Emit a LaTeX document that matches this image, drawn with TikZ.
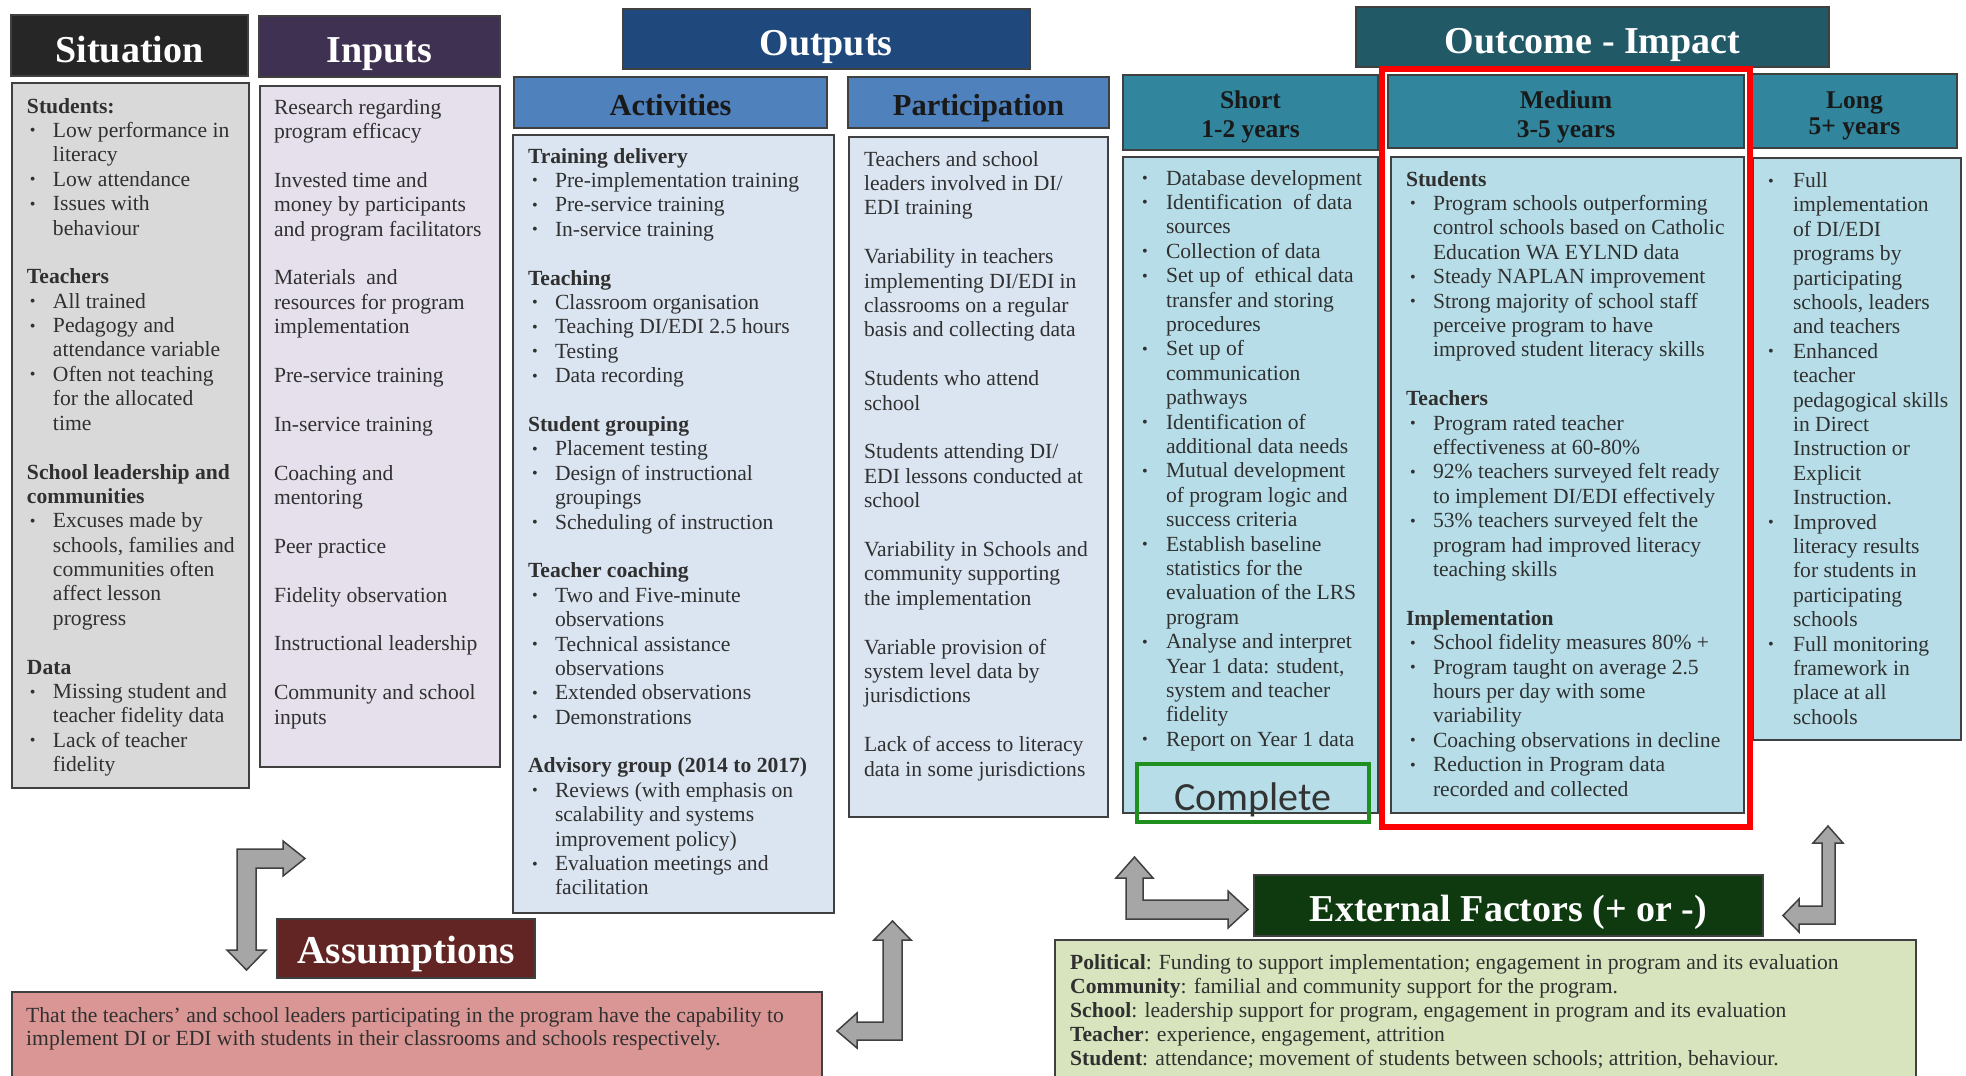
\documentclass[tikz,border=0pt]{standalone}
\usepackage{fontspec}
\usepackage{graphicx}
\setmainfont{Liberation Serif}
\newfontfamily\carl{Carlito}
\definecolor{sithd}{HTML}{262626}
\definecolor{inphd}{HTML}{3F3151}
\definecolor{outhd}{HTML}{1F497D}
\definecolor{acthd}{HTML}{4F81BD}
\definecolor{oichd}{HTML}{215967}
\definecolor{termhd}{HTML}{31859C}
\definecolor{asshd}{HTML}{632523}
\definecolor{exthd}{HTML}{0F3A10}
\definecolor{sitbg}{HTML}{D9D9D9}
\definecolor{inpbg}{HTML}{E5E0EC}
\definecolor{actbg}{HTML}{DBE5F1}
\definecolor{termbg}{HTML}{B7DEE8}
\definecolor{assbg}{HTML}{D99694}
\definecolor{extbg}{HTML}{D7E4BD}
\definecolor{brd}{HTML}{404040}
\definecolor{txt}{HTML}{303030}
\definecolor{arrfill}{HTML}{A6A6A6}
\definecolor{redbox}{HTML}{FF0000}
\definecolor{grnbox}{HTML}{1F8F1F}
\newlength\bo \newlength\bt
\newcommand\sbul{\raisebox{0.15ex}{\scalebox{0.75}{\textbullet}}}
\newcommand\bu{\hspace*{\bo}\makebox[\dimexpr\bt-\bo\relax][l]{\sbul}}
\newcommand\ct{\hspace*{\bt}}
\newcommand\bodyf{\fontsize{21.6pt}{24.4pt}\selectfont}
\newcommand\gap{\\[24.4pt]}
\newcommand\bx[7]{\node[panel, fill=#2, minimum width={#5-#3}, minimum height={#6-#4}] (#1) at ({(#3+#5)/2},{(#4+#6)/2}) {};}
\newcommand\tx[5]{\node[anchor=base west, inner sep=0, outer sep=0, text=txt] (#1) at (#2,#3) {\begin{minipage}[t]{#4}\raggedright\bodyf\leavevmode #5\end{minipage}};}
\begin{document}
\begin{tikzpicture}[x=1pt,y=-1pt,
  panel/.style={draw=brd, line width=1.5pt, inner sep=0, outer sep=0},
  bigtitle/.style={anchor=base, inner sep=0, text=white, font=\fontsize{38pt}{40pt}\selectfont\bfseries},
  midtitle/.style={anchor=base, inner sep=0, text=black!90, font=\fontsize{30.5pt}{32pt}\selectfont\bfseries},
  blockarrow/.style={fill=arrfill, draw=brd, line width=1.5pt, line join=miter}]
\useasboundingbox (0,0) rectangle (1966,1076);
\clip (0,0) rectangle (1966,1076);
\fill[white] (0,0) rectangle (1966,1076);
% headers
\bx{sith}{sithd}{11}{15}{248}{76}{}
\bx{inph}{inphd}{259}{16}{500}{77}{}
\bx{outh}{outhd}{623}{9}{1030}{69}{}
\bx{acth}{acthd}{514}{77}{827}{128}{}
\bx{parh}{acthd}{848}{77}{1109}{128}{}
\bx{oich}{oichd}{1356}{7}{1829}{67}{}
\bx{shorth}{termhd}{1123}{75}{1378}{150}{}
\bx{medh}{termhd}{1388}{75}{1744}{148}{}
\bx{longh}{termhd}{1752}{74}{1957}{148}{}
% bodies
\bx{sitb}{sitbg}{12}{83}{249}{788}{}
\bx{inpb}{inpbg}{260}{86}{500}{767}{}
\bx{actb}{actbg}{513}{135}{834}{913}{}
\bx{parb}{actbg}{849}{137}{1108}{817}{}
\bx{shortb}{termbg}{1123}{157}{1378}{813}{}
\bx{medb}{termbg}{1391}{157}{1744}{813}{}
\bx{longb}{termbg}{1753}{158}{1961}{740}{}
\bx{assh}{asshd}{277}{919}{535}{978}{}
\bx{assb}{assbg}{12}{992}{822}{1100}{}
\bx{exth}{exthd}{1254}{875}{1763}{936}{}
\bx{extb}{extbg}{1055}{940}{1916}{1100}{}
% highlight frames
\node[draw=redbox, line width=6pt, inner sep=0, minimum width=367.5pt, minimum height=757.5pt] (redframe) at (1565.75,447.75) {};
\node[draw=grnbox, line width=4pt, inner sep=0, minimum width=232pt, minimum height=57.5pt] (grnframe) at (1253,792.75) {};
% titles
\node[bigtitle] (sitt) at (129.5,62) {Situation};
\node[bigtitle] (inpt) at (379.5,62) {Inputs};
\node[bigtitle] (outt) at (826,55) {Outputs};
\node[bigtitle] (oict) at (1592.5,53) {Outcome - Impact};
\node[midtitle] (actt) at (670.5,115) {Activities};
\node[midtitle] (part) at (978.5,115) {Participation};
\node[anchor=base, inner sep=0, text=black!90] (shortt) at (1250.5,108) {\begin{minipage}[t]{250pt}\centering\fontsize{25.5pt}{29pt}\selectfont\bfseries\leavevmode Short\\1-2 years\end{minipage}};
\node[anchor=base, inner sep=0, text=black!90] (medt) at (1566,108) {\begin{minipage}[t]{300pt}\centering\fontsize{25.5pt}{29pt}\selectfont\bfseries\leavevmode Medium\\3-5 years\end{minipage}};
\node[anchor=base, inner sep=0, text=black!90] (longt) at (1854.5,108) {\begin{minipage}[t]{200pt}\centering\fontsize{25.5pt}{26.5pt}\selectfont\bfseries\leavevmode Long\\5+ years\end{minipage}};
\node[bigtitle, font=\fontsize{39.5pt}{41pt}\selectfont\bfseries] (asst) at (406,963) {Assumptions};
\node[bigtitle] (extt) at (1508.5,921) {External Factors (+ or -)};
\node[anchor=base, inner sep=0, text=black!80, font=\carl\fontsize{40pt}{42pt}\selectfont] (compl) at (1253,810) {Complete};
% body texts
\tx{sittx}{27}{113}{220pt}{\setlength\bo{3pt}\setlength\bt{26pt}%
\textbf{Students:}\\
\bu Low performance in\\
\ct literacy\\
\bu Low attendance\\
\bu Issues with\\
\ct behaviour\gap
\textbf{Teachers}\\
\bu All trained\\
\bu Pedagogy and\\
\ct attendance variable\\
\bu Often not teaching\\
\ct for the allocated\\
\ct time\gap
\textbf{School leadership and}\\
\textbf{communities}\\
\bu Excuses made by\\
\ct schools, families and\\
\ct communities often\\
\ct affect lesson\\
\ct progress\gap
\textbf{Data}\\
\bu Missing student and\\
\ct teacher fidelity data\\
\bu Lack of teacher\\
\ct fidelity}
\tx{inptx}{274}{114}{225pt}{%
Research regarding\\
program efficacy\gap
Invested time and\\
money by participants\\
and program facilitators\gap
Materials \ and\\
resources for program\\
implementation\gap
Pre-service training\gap
In-service training\gap
Coaching and\\
mentoring\gap
Peer practice\gap
Fidelity observation\gap
Instructional leadership\gap
Community and school\\
inputs}
\tx{acttx}{528}{163}{300pt}{\setlength\bo{4pt}\setlength\bt{27pt}%
\textbf{Training delivery}\\
\bu Pre-implementation training\\
\bu Pre-service training\\
\bu In-service training\gap
\textbf{Teaching}\\
\bu Classroom organisation\\
\bu Teaching DI/EDI 2.5 hours\\
\bu Testing\\
\bu Data recording\gap
\textbf{Student grouping}\\
\bu Placement testing\\
\bu Design of instructional\\
\ct groupings\\
\bu Scheduling of instruction\gap
\textbf{Teacher coaching}\\
\bu Two and Five-minute\\
\ct observations\\
\bu Technical assistance\\
\ct observations\\
\bu Extended observations\\
\bu Demonstrations\gap
\textbf{Advisory group (2014 to 2017)}\\
\bu Reviews (with emphasis on\\
\ct scalability and systems\\
\ct improvement policy)\\
\bu Evaluation meetings and\\
\ct facilitation}
\tx{partx}{864}{166}{240pt}{%
Teachers and school\\
leaders involved in DI/\\
EDI training\gap
Variability in teachers\\
implementing DI/EDI in\\
classrooms on a regular\\
basis and collecting data\gap
Students who attend\\
school\gap
Students attending DI/\\
EDI lessons conducted at\\
school\gap
Variability in Schools and\\
community supporting\\
the implementation\gap
Variable provision of\\
system level data by\\
jurisdictions\gap
Lack of access to literacy\\
data in some jurisdictions}
\tx{shorttx}{1138}{185}{240pt}{\setlength\bo{4pt}\setlength\bt{28pt}%
\bu Database development\\
\bu Identification \ of data\\
\ct sources\\
\bu Collection of data\\
\bu Set up of \ ethical data\\
\ct transfer and storing\\
\ct procedures\\
\bu Set up of\\
\ct communication\\
\ct pathways\\
\bu Identification of\\
\ct additional data needs\\
\bu Mutual development\\
\ct of program logic and\\
\ct success criteria\\
\bu Establish baseline\\
\ct statistics for the\\
\ct evaluation of the LRS\\
\ct program\\
\bu Analyse and interpret\\
\ct Year 1 data: student,\\
\ct system and teacher\\
\ct fidelity\\
\bu Report on Year 1 data}
\tx{medtx}{1406}{186}{340pt}{\setlength\bo{4pt}\setlength\bt{27pt}%
\textbf{Students}\\
\bu Program schools outperforming\\
\ct control schools based on Catholic\\
\ct Education WA EYLND data\\
\bu Steady NAPLAN improvement\\
\bu Strong majority of school staff\\
\ct perceive program to have\\
\ct improved student literacy skills\gap
\textbf{Teachers}\\
\bu Program rated teacher\\
\ct effectiveness at 60-80\%\\
\bu 92\% teachers surveyed felt ready\\
\ct to implement DI/EDI effectively\\
\bu 53\% teachers surveyed felt the\\
\ct program had improved literacy\\
\ct teaching skills\gap
\textbf{Implementation}\\
\bu School fidelity measures 80\% +\\
\bu Program taught on average 2.5\\
\ct hours per day with some\\
\ct variability\\
\bu Coaching observations in decline\\
\bu Reduction in Program data\\
\ct recorded and collected}
\tx{longtx}{1764}{187.5}{200pt}{\setlength\bo{4pt}\setlength\bt{29pt}%
\bu Full\\
\ct implementation\\
\ct of DI/EDI\\
\ct programs by\\
\ct participating\\
\ct schools, leaders\\
\ct and teachers\\
\bu Enhanced\\
\ct teacher\\
\ct pedagogical skills\\
\ct in Direct\\
\ct Instruction or\\
\ct Explicit\\
\ct Instruction.\\
\bu Improved\\
\ct literacy results\\
\ct for students in\\
\ct participating\\
\ct schools\\
\bu Full monitoring\\
\ct framework in\\
\ct place at all\\
\ct schools}
\node[anchor=base west, inner sep=0, text=txt] (asstx) at (26,1022) {\begin{minipage}[t]{795pt}\raggedright\fontsize{21.6pt}{23pt}\selectfont\leavevmode That the teachers’ and school leaders participating in the program have the capability to\\implement DI or EDI with students in their classrooms and schools respectively.\end{minipage}};
\node[anchor=base west, inner sep=0, text=txt] (exttx) at (1070,969) {\begin{minipage}[t]{845pt}\raggedright\fontsize{21.6pt}{24pt}\selectfont\leavevmode\textbf{Political}: Funding to support implementation; engagement in program and its evaluation\\
\textbf{Community}: familial and community support for the program.\\
\textbf{School}: leadership support for program, engagement in program and its evaluation\\
\textbf{Teacher}: experience, engagement, attrition\\
\textbf{Student}: attendance; movement of students between schools; attrition, behaviour.\end{minipage}};
% block arrows
\draw[blockarrow] (246.5,970) -- (266,950) -- (256,950) -- (256,868) -- (283,868) -- (283,876) -- (305,858.5) -- (283,841) -- (283,849) -- (237,849) -- (237,950) -- (227,950) -- cycle;
\draw[blockarrow] (892.5,921) -- (911,940) -- (902,940) -- (902,1040) -- (857,1040) -- (857,1048) -- (837,1031) -- (857,1013) -- (857,1022) -- (883,1022) -- (883,940) -- (874,940) -- cycle;
\draw[blockarrow] (1134.5,857) -- (1153,878) -- (1143,878) -- (1143,900) -- (1228,900) -- (1228,891) -- (1248,909.5) -- (1228,928) -- (1228,919) -- (1126,919) -- (1126,878) -- (1116,878) -- cycle;
\draw[blockarrow] (1828,826) -- (1843,843) -- (1835,843) -- (1835,924) -- (1799,924) -- (1799,932) -- (1783,915.5) -- (1799,899) -- (1799,906) -- (1822,906) -- (1822,843) -- (1813,843) -- cycle;
\end{tikzpicture}
\end{document}
